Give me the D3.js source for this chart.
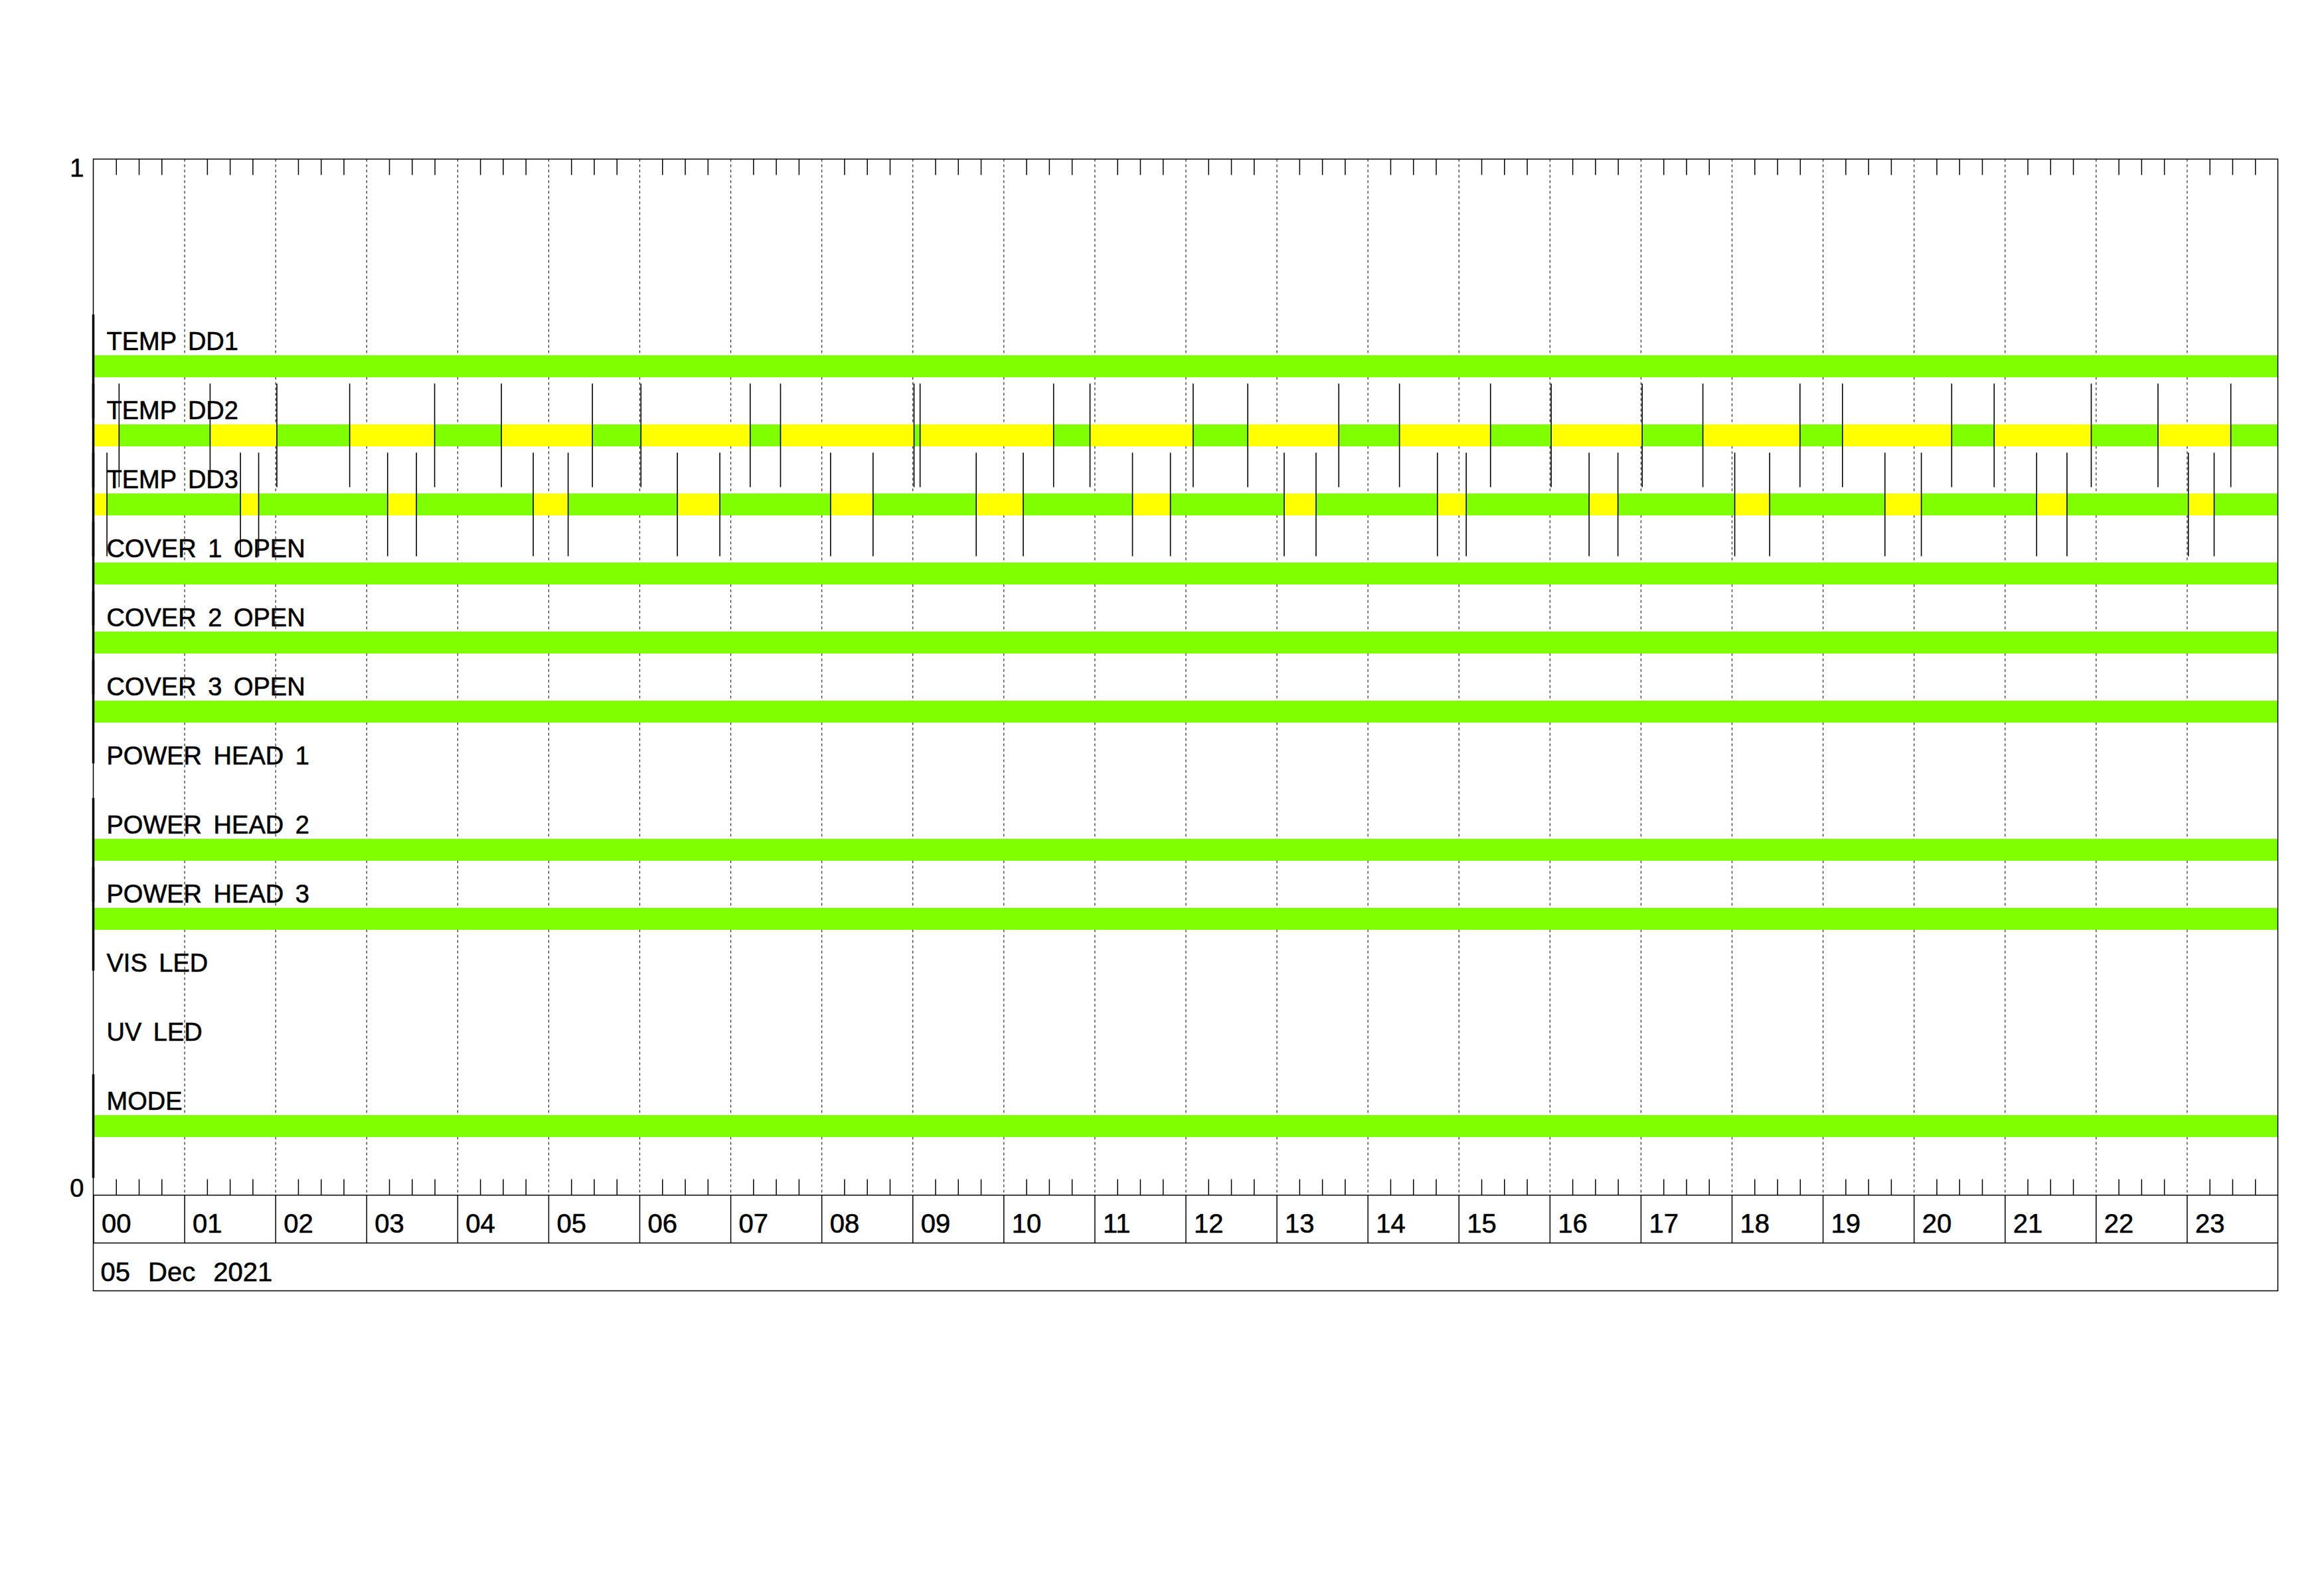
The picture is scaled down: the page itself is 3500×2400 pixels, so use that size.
<!DOCTYPE html>
<html>
<head>
<meta charset="utf-8">
<script src="https://cdn.jsdelivr.net/npm/d3@7/dist/d3.min.js"></script>
<style>
body{margin:0;background:#ffffff;}
text{font-family:"Liberation Sans", Arial, sans-serif;fill:#000;}
</style>
</head>
<body>
<div id="chart"></div>
<script>
var day_label = "05 Dec 2021";
var day_start = "2021-12-05 00:00";
var day_end = "2021-12-06 00:00";

var signal_names = ["TEMP DD1","TEMP DD2","TEMP DD3","COVER 1 OPEN","COVER 2 OPEN","COVER 3 OPEN",
                    "POWER HEAD 1","POWER HEAD 2","POWER HEAD 3","VIS LED","UV LED","MODE"];

//state of each signal at 00:00 (null = no data for the day)
var first_state = ["ok","warn","warn","ok","ok","ok",null,"ok","ok",null,null,"ok"];

//times where the state flips
var dd2_changes = ["00:17","01:17","02:01","02:49","03:45","04:29","05:29","06:01","07:13","07:33",
                   "09:01","09:05","10:33","10:57","12:05","12:41","13:41","14:21","15:21","16:01",
                   "17:01","17:41","18:45","19:13","20:25","20:53","21:57","22:41","23:29"];
var dd3_changes = ["00:09","01:37","01:49","03:14","03:33","04:50","05:13","06:25","06:53","08:06",
                   "08:34","09:42","10:13","11:25","11:50","13:05","13:26","14:46","15:05","16:26",
                   "16:45","18:02","18:25","19:41","20:05","21:21","21:41","23:01","23:18"];
var change_lists = [[],dd2_changes,dd3_changes,[],[],[],[],[],[],[],[],[]];

var y_ticks = [0,1];
var slot_count = 15;

var state_color = {ok:"#7fff00", warn:"#ffff00"};


var width = 3500, height = 2400;
var left = 140.5, right = 3430.5, top_y = 239.5, bottom_y = 1799.5;
var hour_row = 72, date_row = 72;

var parse = d3.timeParse("%Y-%m-%d %H:%M");
var t0 = parse(day_start), t1 = parse(day_end);
function at(hm){ return parse(day_start.slice(0,11) + hm); }

var x = d3.scaleTime().domain([t0,t1]).range([left,right]);
var y = d3.scaleLinear().domain([0,1]).range([bottom_y,top_y]);

function row_value(i){ return (signal_names.length - i) / slot_count; }

//build the coloured segments
var segments = [];
var marks = [];
signal_names.forEach(function(name,i){
    if(!first_state[i]) return;
    var state = first_state[i], from = t0;
    marks.push({row:i, t:t0, start:true});
    change_lists[i].forEach(function(hm){
        var t = at(hm);
        segments.push({row:i, from:from, to:t, state:state});
        marks.push({row:i, t:t, start:false});
        state = (state == "ok") ? "warn" : "ok";
        from = t;
    });
    segments.push({row:i, from:from, to:t1, state:state});
});

var svg = d3.select("#chart").append("svg")
            .attr("width",width)
            .attr("height",height);

svg.append("rect").attr("width",width).attr("height",height).attr("fill","#fff");

//hour grid (dashed)
var hours = d3.timeHour.range(t0,t1);
var grid = svg.append("g")
    .attr("transform","translate(0,"+top_y+")")
    .call(d3.axisBottom(x).tickValues(hours.slice(1)).tickSize(bottom_y-top_y).tickFormat(""));
grid.select(".domain").remove();
grid.selectAll("line").attr("stroke","#222").attr("stroke-width",1.2).attr("stroke-dasharray","4,4");

//quarter hour ticks, top and bottom
var quarters = d3.timeMinute.every(15).range(t0,t1).filter(function(d){ return d.getMinutes() != 0; });
var top_ticks = svg.append("g")
    .attr("transform","translate(0,"+top_y+")")
    .call(d3.axisBottom(x).tickValues(quarters).tickSize(24).tickFormat(""));
top_ticks.select(".domain").remove();
top_ticks.selectAll("line").attr("stroke","#000").attr("stroke-width",1.5);

var bottom_ticks = svg.append("g")
    .attr("transform","translate(0,"+bottom_y+")")
    .call(d3.axisTop(x).tickValues(quarters).tickSize(24).tickFormat(""));
bottom_ticks.select(".domain").remove();
bottom_ticks.selectAll("line").attr("stroke","#000").attr("stroke-width",1.5);

//bars
var bar_h = y(0) - y(0.0212);
svg.append("g").selectAll("rect")
    .data(segments)
    .enter()
    .append("rect")
    .attr("x",function(d){ return x(d.from); })
    .attr("width",function(d){ return x(d.to) - x(d.from); })
    .attr("y",function(d){ return y(row_value(d.row)) - bar_h/2; })
    .attr("height",bar_h)
    .attr("fill",function(d){ return state_color[d.state]; });

//change marks
svg.append("g").selectAll("line")
    .data(marks)
    .enter()
    .append("line")
    .attr("x1",function(d){ return x(d.t); })
    .attr("x2",function(d){ return x(d.t); })
    .attr("y1",function(d){ return y(row_value(d.row) + 0.05); })
    .attr("y2",function(d){ return y(row_value(d.row) - 0.05); })
    .attr("stroke","#000")
    .attr("stroke-width",function(d){ return d.start ? 3.5 : 1.6; });

//signal labels
svg.append("g").selectAll("text")
    .data(signal_names)
    .enter()
    .append("text")
    .attr("x",left + 20)
    .attr("y",function(d,i){ return y(row_value(i)) - 25; })
    .style("font-size","38px")
    .style("word-spacing","7px")
    .style("stroke","#000")
    .style("stroke-width","0.6px")
    .text(function(d){ return d; });

//frame
svg.append("path")
    .attr("d","M"+left+","+(bottom_y+hour_row+date_row)+"V"+top_y+"H"+right+"V"+(bottom_y+hour_row+date_row)+"Z")
    .attr("fill","none").attr("stroke","#000").attr("stroke-width",1.5);

//hour labels row
var hour_axis = svg.append("g")
    .attr("transform","translate(0,"+bottom_y+")")
    .call(d3.axisBottom(x).tickValues(hours).tickSize(hour_row).tickFormat(d3.timeFormat("%H")));
hour_axis.select(".domain").remove();
hour_axis.selectAll("line").attr("stroke","#000").attr("stroke-width",1.5);
hour_axis.selectAll("text")
    .attr("x",12)
    .attr("y",56)
    .attr("dy",null)
    .attr("text-anchor","start")
    .attr("font-family",null)
    .attr("font-size",null)
    .style("font-size","40px")
    .style("stroke","#000")
    .style("stroke-width","0.6px");

svg.append("line").attr("x1",left).attr("x2",right).attr("y1",bottom_y).attr("y2",bottom_y)
    .attr("stroke","#000").attr("stroke-width",1.5);
svg.append("line").attr("x1",left).attr("x2",right).attr("y1",bottom_y+hour_row).attr("y2",bottom_y+hour_row)
    .attr("stroke","#000").attr("stroke-width",1.5);

//date
svg.append("text")
    .attr("x",left + 11)
    .attr("y",bottom_y + hour_row + 57)
    .style("font-size","40px")
    .style("word-spacing","16px")
    .style("stroke","#000")
    .style("stroke-width","0.6px")
    .text(day_label);

//y labels 0 / 1
svg.append("g").selectAll("text")
    .data(y_ticks)
    .enter()
    .append("text")
    .attr("x",left - 14)
    .attr("y",function(d){ return d == 1 ? y(d) + 26 : y(d) + 2; })
    .attr("text-anchor","end")
    .style("font-size","38px")
    .style("stroke","#000")
    .style("stroke-width","0.6px")
    .text(function(d){ return d; });
</script>
</body>
</html>
